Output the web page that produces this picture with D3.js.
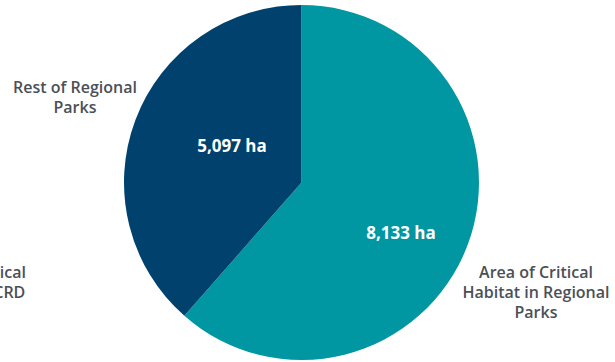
<!DOCTYPE html>
<html>
<head>
<meta charset="utf-8">
<script src="https://cdn.jsdelivr.net/npm/d3@7"></script>
<style>
  html, body { margin: 0; padding: 0; background: #fff; }
  svg { display: block; }
  text { font-family: "Open Sans", "Noto Sans", sans-serif; }
</style>
</head>
<body>
<svg id="chart" width="615" height="362"></svg>
<script>
// Areas in hectares
const categories = ["Area of Critical Habitat in Regional Parks", "Rest of Regional Parks"];
const values = [8133, 5097];
const valueLabels = ["8,133 ha", "5,097 ha"];
const categoryLines = [
  ["Area of Critical", "Habitat in Regional", "Parks"],
  ["Rest of Regional", "Parks"]
];
const colors = ["#0097A2", "#00416E"];
// neighbouring chart label, partly outside the frame
const sideLabelLines = ["Area of Critical", "Habitat in CRD"];

const width = 615, height = 362;
const cx = 301.5, cy = 182.5, radius = 177.5;

const svg = d3.select("#chart");
const g = svg.append("g").attr("transform", `translate(${cx},${cy})`);

const pie = d3.pie().sort(null).value(d => d)(values);
const arc = d3.arc().innerRadius(0).outerRadius(radius);

g.selectAll("path.slice")
  .data(pie)
  .join("path")
  .attr("class", "slice")
  .attr("d", arc)
  .attr("fill", (d, i) => colors[i]);

// value labels inside slices
const valuePos = [
  { angle: 116.9, r: 111.6 },
  { angle: 297.7, r: 78.5 }
];
g.selectAll("text.value")
  .data(pie)
  .join("text")
  .attr("class", "value")
  .attr("x", (d, i) => Math.sin(valuePos[i].angle * Math.PI / 180) * valuePos[i].r)
  .attr("y", (d, i) => -Math.cos(valuePos[i].angle * Math.PI / 180) * valuePos[i].r)
  .attr("dy", "0.35em")
  .attr("text-anchor", "middle")
  .attr("fill", "#fff")
  .attr("font-size", 17)
  .attr("font-weight", 700)
  .text((d, i) => valueLabels[i]);

// category labels outside the pie
const catPos = [
  { x: 536, y: 272 },
  { x: 75, y: 87 }
];
const lineH = 20;
const labelFont = 16;
categoryLines.forEach((lines, i) => {
  const t = svg.append("text")
    .attr("text-anchor", "middle")
    .attr("fill", "#4B5057")
    .attr("font-size", labelFont)
    .attr("font-weight", 600);
  lines.forEach((ln, j) => {
    t.append("tspan")
      .attr("x", catPos[i].x)
      .attr("y", catPos[i].y + j * lineH)
      .attr("dy", "0.35em")
      .text(ln);
  });
});

const side = svg.append("text")
  .attr("text-anchor", "middle")
  .attr("fill", "#4B5057")
  .attr("font-size", labelFont)
  .attr("font-weight", 600);
sideLabelLines.forEach((ln, j) => {
  side.append("tspan")
    .attr("x", -31)
    .attr("y", 272 + j * lineH)
    .attr("dy", "0.35em")
    .text(ln);
});
</script>
</body>
</html>
